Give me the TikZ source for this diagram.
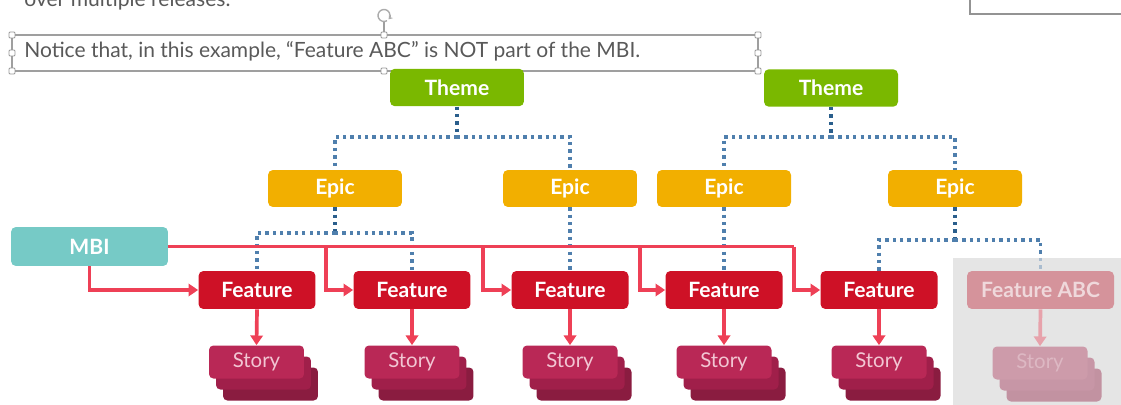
\documentclass[tikz,border=0pt]{standalone}
\usepackage{fontspec}
\setmainfont{Lato}
\usetikzlibrary{arrows.meta}
\definecolor{themec}{HTML}{7AB800}
\definecolor{epicc}{HTML}{F2AF00}
\definecolor{mbic}{HTML}{76CAC6}
\definecolor{featc}{HTML}{CE1126}
\definecolor{redln}{HTML}{EE4056}
\definecolor{stA}{HTML}{B92856}
\definecolor{stB}{HTML}{A01F4A}
\definecolor{stC}{HTML}{8A1C40}
\definecolor{sttxt}{HTML}{F2C6D3}
\definecolor{fadeF}{HTML}{D5939B}
\definecolor{fadeFt}{HTML}{EFD8DB}
\definecolor{fadeSA}{HTML}{CD9BAA}
\definecolor{fadeSB}{HTML}{C796A6}
\definecolor{fadeSC}{HTML}{C292A1}
\definecolor{fadeSt}{HTML}{DDB8C3}
\definecolor{fadeAr}{HTML}{E7A2AB}
\definecolor{dotdark}{HTML}{2A5E8C}
\definecolor{dotlight}{HTML}{4F7FAD}
\definecolor{dotfade}{HTML}{A9BCCF}
\definecolor{txtgray}{HTML}{595959}
\tikzset{
  box/.style={rounded corners=2.8pt, inner sep=0pt, text=white, font=\bfseries\fontsize{12}{14}\selectfont},
  themebox/.style={box, fill=themec, minimum width=2.68cm, minimum height=0.75cm},
  epicbox/.style={box, fill=epicc, minimum width=2.68cm, minimum height=0.74cm},
  mbibox/.style={box, fill=mbic, minimum width=3.14cm, minimum height=0.78cm},
  featbox/.style={box, fill=featc, minimum width=2.34cm, minimum height=0.76cm},
  storybox/.style={rounded corners=2.5pt, inner sep=0pt, minimum width=1.9cm, minimum height=0.66cm, font=\fontsize{11.6}{13}\selectfont},
  dotline/.style={draw=dotlight, line width=1.9pt, dash pattern=on 1.9pt off 2.3pt},
  dotdk/.style={dotline, draw=dotdark},
  redarrow/.style={draw=redln, line width=2.1pt, -{Triangle[width=7pt,length=5.5pt]}},
  redline/.style={draw=redln, line width=2.1pt},
  handle/.style={draw=gray!80, fill=white, line width=0.5pt, rounded corners=0.6pt, minimum size=3.4pt, inner sep=0pt}
}
\newcommand\StoryStack[5]{%
  \node[storybox, fill=#5] (#1c) at (#2+14,#3+22) {};
  \node[storybox, fill=#4] (#1b) at (#2+7,#3+11) {};
}
\begin{document}
\begin{tikzpicture}[x=0.02cm,y=-0.02cm]
\useasboundingbox (0,0) rectangle (1121,405);
% top texts and frames
\node[anchor=base west, inner sep=0pt, text=txtgray, font=\fontsize{12}{14}\selectfont] (prev) at (24,6.5) {over multiple releases.};
\draw[draw=gray!85, line width=0.9pt] (970,-10) -- (970,14) -- (1130,14);
\draw[draw=gray!75, line width=0.6pt] (12,35) rectangle (758,71);
\node[anchor=base west, inner sep=0pt, text=txtgray, font=\fontsize{11.95}{14}\selectfont] (notice) at (24,58) {Notice that, in this example, “Feature ABC” is NOT part of the MBI.};
\coordinate (rot) at (384,15.5);
\draw[draw=gray!75, line width=0.6pt] (384,22) -- (384,35);
\draw[draw=gray!65, line width=0.8pt, -{Stealth[length=2.2pt,width=3pt]}] (rot) ++(60:6) arc[start angle=60, end angle=400, radius=6];
\foreach \p in {(12,35),(384,35),(758,35),(12,53),(758,53),(12,71),(384,71),(758,71)}
  \node[handle] at \p {};
% faded background
\fill[color=black!10] (953,258) rectangle (1121,405);
% nodes
\node[themebox] (th1) at (457,87.5) {Theme};
\node[themebox] (th2) at (831,88) {Theme};
\node[epicbox] (ep1) at (335,188.5) {Epic};
\node[epicbox] (ep2) at (570,188.5) {Epic};
\node[epicbox] (ep3) at (724,188.5) {Epic};
\node[epicbox] (ep4) at (955,188.5) {Epic};
\node[mbibox] (mbi) at (89.5,246.5) {MBI};
% dotted connectors
\coordinate (j1) at (457,137);
\coordinate (j2) at (831,137);
\coordinate (j3) at (335,233);
\coordinate (j4) at (955,240);
\draw[dotdk] (th1.south) -- (j1);
\draw[dotline] (j1) -| (ep1.north);
\draw[dotline] (j1) -| (ep2.north);
\draw[dotdk] (th2.south) -- (j2);
\draw[dotline] (j2) -| (ep3.north);
\draw[dotline] (j2) -| (ep4.north);
\draw[dotdk] (ep1.south) -- (j3);
\draw[dotdk] (ep4.south) -- (j4);
\coordinate (f1t) at (257,271);
\coordinate (f2t) at (412,271);
\coordinate (f5t) at (879,271);
\coordinate (fat) at (1040.5,258);
\coordinate (fab) at (1040.5,271);
\draw[dotline] (j3) -| (f1t);
\draw[dotline] (j3) -| (f2t);
\draw[dotline] (ep2.south) -- (570,271);
\draw[dotline] (ep3.south) -- (724,271);
\draw[dotline] (j4) -| (f5t);
\draw[dotline] (j4) -| (fat);
\draw[dotline, draw=dotfade] (fat) -- (fab);
% features
\node[featbox] (f1) at (257,290) {Feature};
\node[featbox] (f2) at (412,290) {Feature};
\node[featbox] (f3) at (570,290) {Feature};
\node[featbox] (f4) at (724,290) {Feature};
\node[featbox] (f5) at (879,290) {Feature};
\node[featbox, fill=fadeF, text=fadeFt, minimum width=2.94cm] (fabc) at (1040.5,290) {Feature ABC};
% red connectors
\coordinate (b2) at (326,246.5);
\coordinate (b3) at (483,246.5);
\coordinate (b4) at (640,246.5);
\coordinate (b5) at (794,246.5);
\draw[redarrow] (mbi.south) |- (f1.west);
\draw[redline] (mbi.east) -- (b5);
\draw[redarrow] (b2) |- (f2.west);
\draw[redarrow] (b3) |- (f3.west);
\draw[redarrow] (b4) |- (f4.west);
\draw[redarrow] (b5) |- (f5.west);
% stories
\StoryStack{s1}{256.5}{362}{stB}{stC}
\node[storybox, fill=stA, text=sttxt] (s1) at (256.5,362) {Story};
\StoryStack{s2}{412}{362}{stB}{stC}
\node[storybox, fill=stA, text=sttxt] (s2) at (412,362) {Story};
\StoryStack{s3}{570}{362}{stB}{stC}
\node[storybox, fill=stA, text=sttxt] (s3) at (570,362) {Story};
\StoryStack{s4}{724}{362}{stB}{stC}
\node[storybox, fill=stA, text=sttxt] (s4) at (724,362) {Story};
\StoryStack{s5}{879}{362}{stB}{stC}
\node[storybox, fill=stA, text=sttxt] (s5) at (879,362) {Story};
\StoryStack{s6}{1040}{363}{fadeSB}{fadeSC}
\node[storybox, fill=fadeSA, text=fadeSt] (s6) at (1040,363) {Story};
\draw[redarrow] (f1.south) -- (s1.north);
\draw[redarrow] (f2.south) -- (s2.north);
\draw[redarrow] (f3.south) -- (s3.north);
\draw[redarrow] (f4.south) -- (s4.north);
\draw[redarrow] (f5.south) -- (s5.north);
\draw[redarrow, draw=fadeAr] (fabc.south) -- (s6.north);
\end{tikzpicture}
\end{document}
